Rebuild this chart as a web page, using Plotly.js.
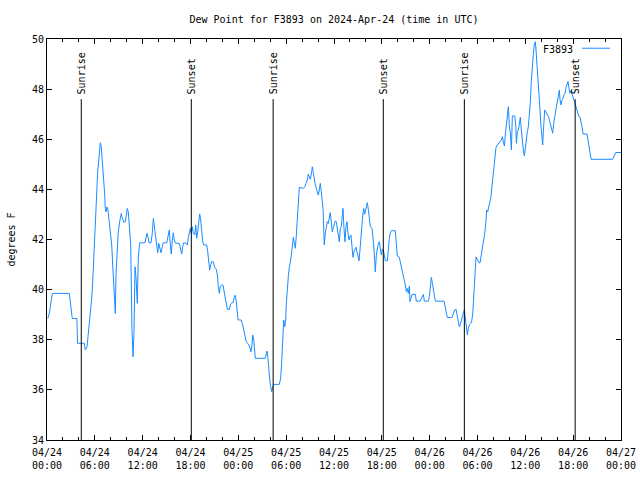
<!DOCTYPE html>
<html>
<head>
<meta charset="utf-8">
<script src="https://cdn.plot.ly/plotly-3.0.1.min.js"></script>
<style>html,body{margin:0;padding:0;background:#fff}#chart{width:640px;height:480px}</style>
</head>
<body>
<div id="chart"></div>
<script>
// ---- Data ----
const startDate = "2024-04-24 00:00";
const endDate = "2024-04-27 00:00";
// hours since 2024-04-24 00:00 UTC
const hours = [0.10,0.29,0.41,0.54,0.66,2.80,3.01,3.17,3.75,3.83,4.68,4.80,5.02,5.23,5.39,5.61,5.73,5.86,5.98,6.11,6.23,6.36,6.49,6.61,6.69,6.81,6.94,7.11,7.24,7.31,7.40,7.53,7.65,7.78,7.94,8.12,8.24,8.37,8.44,8.57,8.66,8.82,8.94,9.15,9.32,9.45,9.62,9.82,9.95,10.07,10.20,10.32,10.50,10.66,10.79,10.91,11.04,11.16,11.25,11.33,11.45,11.63,12.29,12.42,12.54,12.67,12.80,13.05,13.21,13.34,13.46,13.64,13.76,13.89,14.01,14.18,14.30,14.46,14.59,15.02,15.22,15.34,15.47,15.59,15.72,15.84,15.97,16.14,16.60,16.77,16.90,17.02,17.15,17.44,17.60,17.73,17.85,17.98,18.10,18.23,18.35,18.53,18.65,18.78,18.90,19.03,19.15,19.28,19.40,19.53,19.65,20.03,20.16,20.28,20.41,20.53,20.66,20.86,21.04,21.24,21.37,21.49,21.62,21.74,21.87,22.08,22.20,22.33,22.45,22.62,22.87,23.04,23.21,23.37,23.50,23.62,23.75,23.87,23.96,24.34,24.50,24.68,24.84,25.00,25.18,25.34,25.46,25.59,25.71,25.80,25.93,26.05,26.13,27.38,27.51,27.60,27.72,27.81,27.94,28.06,28.19,28.31,28.47,29.14,29.31,29.44,29.56,29.69,29.82,29.94,30.02,30.14,30.27,30.40,30.52,30.65,30.77,30.90,31.02,31.15,31.27,31.40,31.52,31.65,32.15,32.33,32.49,32.65,32.78,32.90,33.03,33.16,33.28,33.41,33.53,33.66,33.78,33.91,34.03,34.16,34.28,34.41,34.53,34.62,34.71,34.78,34.91,35.03,35.16,35.28,35.41,35.53,35.66,35.78,35.91,36.04,36.16,36.29,36.41,36.54,36.67,36.79,36.92,37.04,37.13,37.25,37.38,37.50,37.63,37.75,37.88,38.01,38.13,38.26,38.38,38.51,38.63,38.76,38.88,39.01,39.14,39.26,39.39,39.51,39.60,39.73,39.85,39.98,40.10,40.18,40.31,40.43,40.56,40.77,40.86,40.98,41.11,41.18,41.31,41.43,41.56,41.69,41.81,41.94,42.06,42.19,42.31,42.44,42.69,42.81,42.94,43.06,43.19,43.69,43.81,43.94,44.19,44.32,44.44,44.57,44.69,44.82,44.95,45.07,45.20,45.32,45.45,45.53,45.66,45.79,46.20,46.33,46.79,46.92,47.08,47.21,47.33,47.83,47.96,48.05,48.13,48.21,48.34,48.46,48.59,48.71,49.80,49.92,50.09,50.21,50.80,50.97,51.14,51.31,51.47,51.60,51.72,51.85,51.97,52.10,52.22,52.35,52.44,52.52,52.65,52.73,52.85,52.98,53.15,53.28,53.40,53.53,53.66,53.73,53.82,53.94,54.07,54.19,54.32,54.44,54.57,54.69,54.82,54.94,55.07,55.15,55.28,55.40,55.53,55.66,55.78,55.91,56.03,56.16,56.32,56.49,56.66,56.83,56.99,57.12,57.24,57.37,57.49,57.62,57.75,57.87,58.00,58.12,58.25,58.37,58.67,58.80,58.88,59.00,59.13,59.25,59.38,59.50,59.63,59.75,59.88,60.00,60.13,60.25,60.38,60.50,60.63,60.75,60.88,61.01,61.13,61.26,61.34,61.47,61.59,61.72,61.84,61.97,62.09,62.18,62.26,62.34,62.43,62.56,62.68,62.81,62.93,63.06,63.18,63.31,63.44,63.56,63.69,63.81,63.94,64.06,64.19,64.27,64.35,64.48,64.60,64.73,64.85,64.98,65.11,65.23,65.36,65.48,65.61,65.73,65.86,65.98,66.11,66.23,66.36,66.48,66.61,66.73,66.86,66.99,67.11,67.24,67.74,67.86,67.99,68.11,68.24,70.96,71.09,71.21,71.34,72.00];
const dewPointF = [38.85,39.05,39.3,39.6,39.85,39.85,39.3,38.85,38.85,37.86,37.86,37.6,37.72,38.39,39.07,39.66,40.3,41.3,42.3,43.3,44.1,44.7,45.17,45.64,45.86,45.7,45.17,44.5,43.77,43.24,43.1,43.3,43.18,42.78,42.38,41.78,40.98,40.18,39.52,39.05,40.66,41.45,42.3,42.78,43.04,42.84,42.7,42.7,43.04,43.24,43.1,42.51,41.78,38.39,37.32,38.25,40.91,40.51,40.0,39.45,41.25,41.87,41.87,42.04,42.25,42.1,41.87,41.87,42.25,42.84,42.5,42.05,41.65,41.47,41.85,41.58,41.47,41.71,41.87,41.87,42.18,42.38,41.78,41.42,41.98,42.27,41.98,41.85,41.85,41.54,41.42,41.71,41.87,41.85,41.78,42.09,42.31,42.45,42.25,42.51,42.25,42.18,42.58,42.05,42.31,42.71,43.02,42.78,42.31,41.91,41.78,41.78,41.51,41.05,40.78,40.98,41.11,41.11,40.89,40.81,40.58,40.12,39.85,40.14,40.18,40.18,39.98,39.72,39.45,39.21,39.21,39.43,39.48,39.48,39.72,39.78,39.51,39.05,38.79,38.79,38.65,38.39,38.19,37.92,37.85,37.79,37.66,37.52,37.79,38.19,37.99,37.66,37.26,37.26,37.46,37.55,37.26,36.82,36.39,36.13,35.93,36.13,36.22,36.22,36.46,37.12,38.26,38.79,38.52,38.79,39.45,40.09,40.52,40.91,41.07,41.38,41.85,42.09,41.88,41.65,42.14,42.91,43.68,44.08,44.04,44.1,44.24,44.37,44.61,44.53,44.4,44.61,44.9,44.66,44.37,44.17,44.04,43.91,43.77,43.97,44.24,43.91,43.64,43.24,42.45,41.78,42.25,42.58,42.71,42.64,42.91,43.07,42.71,42.31,42.48,42.64,42.74,42.71,42.48,42.11,41.91,42.45,42.51,42.98,43.24,42.45,41.91,42.51,42.71,42.25,41.98,42.14,42.18,41.71,41.29,41.52,41.65,41.69,41.52,41.34,41.15,41.58,41.98,42.58,42.94,43.24,43.01,43.24,43.38,43.47,43.18,42.78,42.51,42.45,42.25,41.78,41.11,40.71,41.38,41.71,41.85,41.91,41.51,41.38,41.6,41.58,41.38,41.15,41.15,41.71,42.05,42.25,42.35,42.35,41.85,41.34,41.29,41.11,40.98,40.78,40.65,40.45,40.18,39.92,40.05,39.85,40.14,39.52,39.72,39.81,39.81,39.54,39.54,39.62,39.72,39.81,39.54,39.54,39.72,40.01,40.32,40.49,40.25,40.01,39.78,39.54,39.54,39.34,39.12,38.89,38.89,39.05,39.19,39.21,38.92,38.65,38.52,38.62,38.79,38.92,39.05,39.19,38.99,38.72,38.39,38.19,38.46,38.59,38.65,38.76,39.02,39.58,40.18,40.85,41.31,41.25,41.18,41.07,41.07,41.31,41.58,41.87,42.05,42.31,42.75,43.18,43.11,43.24,43.47,43.64,44.04,44.5,44.9,45.3,45.68,45.77,45.86,45.9,45.97,46.1,45.9,45.73,46.17,46.57,46.93,47.3,46.5,46.24,45.57,46.93,46.93,46.57,45.84,46.3,46.37,46.7,46.88,46.37,45.84,45.57,45.33,45.7,46.1,46.3,46.5,46.9,47.5,48.3,49.03,49.43,49.76,49.89,49.56,49.03,48.36,47.77,47.17,46.5,45.97,45.77,46.3,46.64,47.17,47.1,47.04,46.93,46.88,46.7,46.53,46.37,46.24,46.64,46.97,47.23,47.37,47.57,47.86,47.96,47.57,47.37,47.57,47.64,47.77,47.83,48.07,48.23,48.3,48.03,47.83,47.94,47.8,47.7,47.57,47.37,47.23,47.17,47.04,46.9,46.88,46.7,46.5,46.21,46.21,45.97,45.7,45.5,45.2,45.2,45.3,45.44,45.47,45.47];
const sunriseTimes = ["2024-04-24 04:18","2024-04-25 04:22","2024-04-26 04:21"];
const sunsetTimes = ["2024-04-24 18:06","2024-04-25 18:11","2024-04-26 18:15"];
const tickTimes = ["2024-04-24 00:00","2024-04-24 06:00","2024-04-24 12:00","2024-04-24 18:00","2024-04-25 00:00","2024-04-25 06:00","2024-04-25 12:00","2024-04-25 18:00","2024-04-26 00:00","2024-04-26 06:00","2024-04-26 12:00","2024-04-26 18:00","2024-04-27 00:00"];
const tickLabels = ["04/24<br>00:00","04/24<br>06:00","04/24<br>12:00","04/24<br>18:00","04/25<br>00:00","04/25<br>06:00","04/25<br>12:00","04/25<br>18:00","04/26<br>00:00","04/26<br>06:00","04/26<br>12:00","04/26<br>18:00","04/27<br>00:00"];
const seriesName = "F3893";
const sunMarkerTop = 47.6;

// ---- Build ----
const base = Date.UTC(2024, 3, 24, 0, 0, 0);
function fmt(ms){ return new Date(ms).toISOString().replace('T',' ').slice(0,19); }
const times = hours.map(h => fmt(base + h*3600000));

const FONT = "DejaVu Sans Mono, Liberation Mono, monospace";
const shapes = [];
const annotations = [];
function addMarker(t, label){
  shapes.push({type:'line', xref:'x', yref:'y', x0:t, x1:t, y0:34, y1:sunMarkerTop,
               line:{color:'#000', width:1}});
  annotations.push({xref:'x', yref:'y', x:t, y:sunMarkerTop, text:label, showarrow:false,
                    textangle:-90, xanchor:'center', yanchor:'bottom', yshift:3,
                    font:{family:FONT, size:10, color:'#000'}});
}
sunriseTimes.forEach(t => addMarker(t, 'Sunrise'));
sunsetTimes.forEach(t => addMarker(t, 'Sunset'));

// gnuplot-like key: text then sample line
annotations.push({xref:'paper', yref:'paper', x:0.92, y:0.975, text:seriesName, showarrow:false,
                  xanchor:'right', yanchor:'middle', font:{family:FONT, size:10, color:'#000'}});
shapes.push({type:'line', xref:'paper', yref:'paper', x0:0.932, x1:0.981, y0:0.977, y1:0.977,
             line:{color:'#1a8cff', width:1}});

const trace = {x: times, y: dewPointF, type:'scatter', mode:'lines', name:seriesName,
               line:{color:'#1a8cff', width:1}, showlegend:false};

const layout = {
  width:640, height:480,
  margin:{l:47, r:19, t:39, b:40},
  paper_bgcolor:'#fff', plot_bgcolor:'#fff',
  font:{family:FONT, size:10, color:'#000'},
  title:{text:'Dew Point for F3893 on 2024-Apr-24 (time in UTC)', x:0.5, xref:'paper',
         y:1-19/480, yref:'container', yanchor:'middle', font:{family:FONT, size:10, color:'#000'}},
  xaxis:{type:'date', range:[startDate, endDate], tickvals:tickTimes, ticktext:tickLabels,
         showgrid:false, zeroline:false, showline:true, linecolor:'#000', linewidth:1, mirror:'allticks',
         ticks:'inside', ticklen:5, tickcolor:'#000', tickangle:0, ticklabelstandoff:3,
         minor:{dtick:2*3600000, ticks:'inside', ticklen:3, tickcolor:'#000', showgrid:false},
         tickfont:{family:FONT, size:10, color:'#000'}},
  yaxis:{range:[34,50], dtick:2, tick0:34, showgrid:false, zeroline:false, showline:true,
         linecolor:'#000', linewidth:1, mirror:'allticks', ticks:'inside', ticklen:5, tickcolor:'#000',
         tickfont:{family:FONT, size:10, color:'#000'}, automargin:true,
         title:{text:'degrees F', font:{family:FONT, size:10, color:'#000'}, standoff:14}},
  shapes:shapes, annotations:annotations, showlegend:false
};
Plotly.newPlot('chart', [trace], layout, {staticPlot:true, displayModeBar:false});
</script>
</body>
</html>
